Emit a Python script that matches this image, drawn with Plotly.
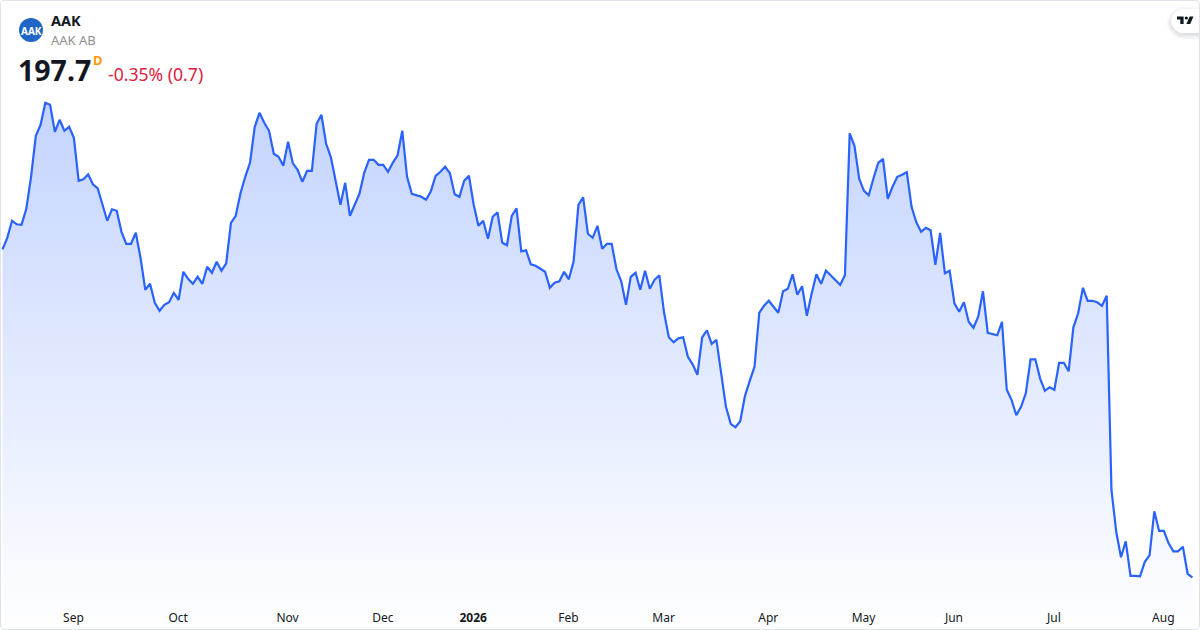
import plotly.graph_objects as go

prices = [
263.3,265.6,269.0,268.3,268.2,271.4,277.8,286.0,288.2,292.6,292.2,286.8,289.2,287.0,287.8,285.6,277.0,277.3,278.3,276.3,
275.5,272.3,269.0,271.3,271.0,266.8,264.4,264.4,266.6,261.6,255.2,256.4,252.6,251.0,252.2,252.7,254.6,253.2,258.8,257.4,
256.4,257.8,256.4,259.8,258.6,260.8,259.0,260.5,268.6,270.0,274.5,277.8,280.6,287.8,290.6,288.6,287.0,282.4,281.8,280.0,
284.8,280.5,279.2,276.8,279.0,279.0,288.4,290.2,284.4,281.7,277.2,272.2,276.6,270.0,272.2,274.4,278.6,281.2,281.2,280.2,
280.2,278.8,280.6,282.1,287.0,277.8,274.4,274.1,273.8,273.2,274.9,278.0,278.8,279.8,278.5,274.3,273.8,277.0,278.0,272.2,
268.0,269.0,265.4,269.8,270.7,264.6,264.1,270.0,271.5,262.9,263.1,260.3,260.0,259.4,258.8,255.6,256.6,256.9,258.8,257.3,
260.9,272.2,273.7,266.4,265.6,268.0,263.4,264.4,264.4,259.3,256.9,252.2,257.8,258.6,255.2,259.0,255.4,257.2,258.1,250.6,
245.7,244.7,245.5,245.7,241.8,240.3,238.2,245.7,247.1,244.4,245.2,238.5,231.8,228.4,227.7,228.9,234.0,237.0,239.8,250.6,
252.0,253.0,251.8,250.6,254.9,255.4,258.3,254.2,255.9,250.0,254.4,258.3,256.4,259.0,258.1,257.1,256.2,258.1,286.5,284.0,
277.4,275.0,274.1,277.5,280.6,281.4,273.4,275.8,277.8,278.2,278.7,271.8,268.7,266.8,267.6,267.1,260.2,266.6,258.5,259.0,
252.5,250.8,252.7,248.8,247.6,249.8,254.9,246.6,246.4,246.1,248.8,235.2,233.2,230.1,231.8,234.5,241.3,241.3,237.5,235.0,
235.7,235.2,240.6,240.6,238.9,247.7,250.5,255.6,253.0,253.0,252.7,252.0,254.0,215.2,206.8,201.7,204.9,198.0,198.0,197.9,
200.8,202.1,210.9,207.0,207.0,204.5,202.9,202.9,203.8,198.4,197.7,
]
sessions = list(range(len(prices)))
month_sessions = [14.9, 36.9, 59.9, 79.9, 98.9, 118.9, 138.9, 160.9, 180.9, 199.9, 220.9, 243.9]
month_labels = ["Sep", "Oct", "Nov", "Dec", "<b>2026</b>", "Feb", "Mar", "Apr", "May", "Jun", "Jul", "Aug"]
symbol = "AAK"
company = "AAK AB"
last_price = "197.7"
change_text = "-0.35% (0.7)"
FONT = "Noto Sans"

fig = go.Figure()
fig.add_trace(go.Scatter(
    x=sessions, y=prices, mode="lines", fill="tozeroy",
    line=dict(color="#2962ff", width=2.2, shape="linear"),
    fillgradient=dict(type="vertical", start=187, stop=295,
                      colorscale=[[0, "rgba(41,98,255,0.0)"], [1, "rgba(41,98,255,0.28)"]]),
    hoverinfo="skip", showlegend=False,
))
ann = dict(xref="paper", yref="paper", showarrow=False, xanchor="left", yanchor="middle", borderpad=0, borderwidth=0)
def px(x): return x / 1200
def py(y): return 1 - y / 630
def poly(points):
    return "M " + " L ".join(f"{px(x)} {py(y)}" for x, y in points) + " Z"
def pill(x0, y0, r):
    # pill open on the right side of the card
    y1 = y0 + 2 * r
    return (f"M {px(1200)} {py(y0)} L {px(x0 + r)} {py(y0)} "
            f"C {px(x0 + 0.45 * r)} {py(y0)} {px(x0)} {py(y0 + 0.55 * r)} {px(x0)} {py(y0 + r)} "
            f"C {px(x0)} {py(y1 - 0.55 * r)} {px(x0 + 0.45 * r)} {py(y1)} {px(x0 + r)} {py(y1)} "
            f"L {px(1200)} {py(y1)} Z")
def tv(u, v):
    return (1177 + (u - 2) * 0.55, 16.6 + (v - 6) * 0.5)

shadow = [
    dict(type="path", xref="paper", yref="paper", path=pill(1171 - d, 9 + 2 - d, 12 + d),
         fillcolor=f"rgba(19,23,34,{a})", line=dict(width=0))
    for d, a in [(5, 0.012), (4, 0.015), (3, 0.018), (2, 0.022), (1, 0.026), (0, 0.03)]
]
fig.update_layout(
    width=1200, height=630, margin=dict(l=0, r=0, t=0, b=0),
    paper_bgcolor="white", plot_bgcolor="rgba(0,0,0,0)",
    font=dict(family=FONT, size=12, color="#131722"),
    xaxis=dict(range=[-0.525, 251.6], tickmode="array", tickvals=month_sessions, ticktext=month_labels,
               showgrid=False, zeroline=False, showline=False, ticks="", ticklabelposition="inside",
               ticklabelstandoff=3, tickfont=dict(size=12, color="#131722"), fixedrange=True),
    yaxis=dict(range=[187.16, 313.16], visible=False, fixedrange=True),
    shapes=shadow + [
        dict(type="path", xref="paper", yref="paper", path=pill(1171, 9, 12),
             fillcolor="white", line=dict(width=0)),
        dict(type="path", xref="paper", yref="paper",
             path=poly([tv(2, 6), tv(14, 6), tv(14, 21), tv(8, 21), tv(8, 12), tv(2, 12)]),
             fillcolor="#131722", line=dict(width=0)),
        dict(type="path", xref="paper", yref="paper",
             path=poly([tv(25, 6), tv(32, 6), tv(26, 21), tv(19, 21)]),
             fillcolor="#131722", line=dict(width=0)),
        dict(type="circle", xref="paper", yref="paper",
             x0=px(tv(16, 6)[0]), x1=px(tv(22, 12)[0]), y0=py(tv(16, 12)[1]), y1=py(tv(22, 6)[1]),
             fillcolor="#131722", line=dict(width=0)),
        dict(type="path", xref="paper", yref="paper",
             path=f"M {px(0.5)} {py(5)} Q {px(0.5)} {py(0.5)} {px(5)} {py(0.5)} L {px(1195)} {py(0.5)} Q {px(1199.5)} {py(0.5)} {px(1199.5)} {py(5)} "
                  f"L {px(1199.5)} {py(625)} Q {px(1199.5)} {py(629.5)} {px(1195)} {py(629.5)} L {px(5)} {py(629.5)} Q {px(0.5)} {py(629.5)} {px(0.5)} {py(625)} Z",
             line=dict(color="#e0e3eb", width=1), fillcolor="rgba(0,0,0,0)"),
        dict(type="circle", xref="paper", yref="paper", x0=px(19), x1=px(43), y0=py(42), y1=py(18),
             fillcolor="#1f66c6", line=dict(width=0)),
    ],
    annotations=[
        dict(text="<b>AAK</b>", x=px(31), y=py(30.5), font=dict(size=10, color="white"), **{**ann, "xanchor": "center"}),
        dict(text=f"<b>{symbol}</b>", x=px(51), y=py(20), font=dict(size=14.5, color="#131722"), **ann),
        dict(text=company, x=px(51), y=py(40.5), font=dict(size=13, color="#8f8f8f"), **ann),
        dict(text=f"<b>{last_price}</b>", x=px(18), y=py(69.5), font=dict(size=28.5, color="#131722"), **ann),
        dict(text="<b>D</b>", x=px(93), y=py(60.5), font=dict(size=13, color="#ff9800"), **ann),
        dict(text=change_text, x=px(108), y=py(74), font=dict(size=17.6, color="#d9213f"), **ann),
    ],
)
fig.write_html("out.html", config={"displayModeBar": False},
               post_script="document.body.style.margin='0';document.body.style.overflow='hidden';")
